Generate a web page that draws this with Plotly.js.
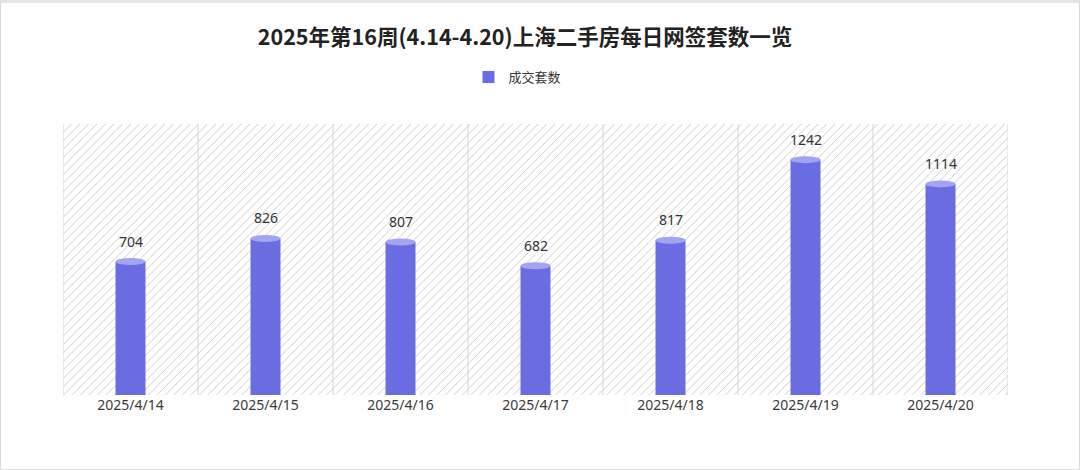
<!DOCTYPE html>
<html><head><meta charset="utf-8">
<script src="https://cdn.plot.ly/plotly-3.0.1.min.js"></script>
<style>
html,body{margin:0;padding:0;background:#fff;}
#wrap{position:absolute;left:0;top:0;border:1px solid #dcdcdc;border-top:3px solid #e6e6e6;box-sizing:border-box;width:1080px;height:470px;}
#chart{width:1080px;height:470px;position:absolute;left:0;top:0;}
</style></head>
<body><div id="wrap"></div><div id="chart"></div>
<script>
const titleText = '2025年第16周(4.14-4.20)上海二手房每日网签套数一览';
const seriesName = '成交套数';
const categories = ['2025/4/14','2025/4/15','2025/4/16','2025/4/17','2025/4/18','2025/4/19','2025/4/20'];
const values = [704, 826, 807, 682, 817, 1242, 1114];

const yMax = 1430;
const plotH = 271;
const unitsPerPx = yMax / plotH;
const barW = 0.222;
const capH = 7 * unitsPerPx;
const barColor = '#6a6ce2';
const capColor = '#a3a4f0';

const xIdx = categories.map((c, i) => i);

const bg = {
  type: 'bar', x: xIdx, y: categories.map(() => yMax), width: 1,
  marker: {color: '#ffffff', line: {width: 0},
    pattern: {shape: '/', fgcolor: '#cacaca', bgcolor: '#ffffff', size: 6, solidity: 0.15}},
  showlegend: false, hoverinfo: 'skip'
};
const bars = {
  type: 'bar', x: xIdx, y: values, width: barW, name: seriesName,
  marker: {color: barColor, line: {width: 0}}, hoverinfo: 'x+y'
};

const shapes = [];
for (let i = 0; i <= categories.length; i++) {
  shapes.push({type: 'line', xref: 'x', yref: 'paper', x0: i - 0.5, x1: i - 0.5, y0: 0, y1: 1,
    line: {color: '#d6d6d6', width: 1}, layer: 'above'});
}
values.forEach((v, i) => {
  shapes.push({type: 'circle', xref: 'x', yref: 'y', x0: i - barW / 2, x1: i + barW / 2,
    y0: -capH / 2, y1: capH / 2, fillcolor: barColor, line: {width: 0}, layer: 'above'});
  shapes.push({type: 'circle', xref: 'x', yref: 'y', x0: i - barW / 2, x1: i + barW / 2,
    y0: v - capH / 2, y1: v + capH / 2, fillcolor: capColor, line: {width: 0}, layer: 'above'});
});

const annotations = values.map((v, i) => ({
  x: i, y: v, xref: 'x', yref: 'y', text: String(v), showarrow: false,
  yanchor: 'bottom', yshift: 9, font: {size: 14, color: '#333333', family: 'Noto Sans, sans-serif'}
}));

const layout = {
  width: 1080, height: 470,
  margin: {l: 63, r: 72, t: 124, b: 75},
  paper_bgcolor: 'rgba(0,0,0,0)', plot_bgcolor: 'rgba(0,0,0,0)',
  barmode: 'overlay',
  title: {text: '<b>' + titleText + '</b>', x: 525 / 1080, xanchor: 'center', y: 1 - 37 / 470, yanchor: 'middle',
    font: {size: 21.5, color: '#222222', family: 'Noto Sans CJK SC, sans-serif'}},
  showlegend: true,
  legend: {orientation: 'h', x: 0.5 - 18 / 945, xanchor: 'center', y: 1 + 47 / 271, yanchor: 'middle',
    font: {size: 13, color: '#333333', family: 'Noto Sans CJK SC, sans-serif'}, itemwidth: 30},
  xaxis: {range: [-0.5, categories.length - 0.5], tickvals: xIdx, ticktext: categories,
    showgrid: false, zeroline: false, showline: false, ticks: '',
    tickfont: {size: 14, color: '#3a3a3a', family: 'Noto Sans, sans-serif'}},
  yaxis: {range: [0, yMax], visible: false, showgrid: false, zeroline: false},
  shapes: shapes, annotations: annotations
};
Plotly.newPlot('chart', [bg, bars], layout, {displayModeBar: false, staticPlot: true});
</script></body></html>
